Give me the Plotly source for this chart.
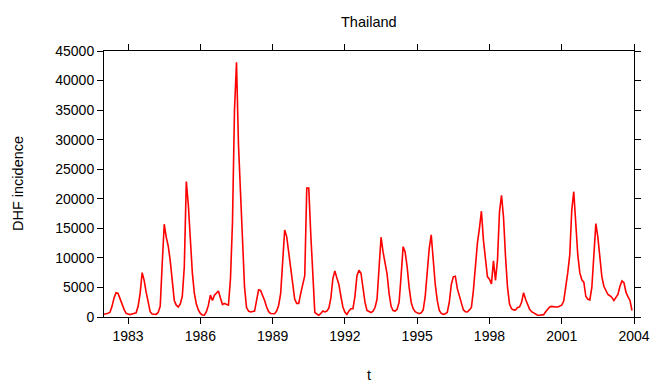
import plotly.graph_objects as go

start_year = 1982
incidence = [
    450, 500, 650, 800, 1800, 3200, 4100, 4000, 3000, 2300, 1300, 600,        # 1982
    450, 400, 500, 600, 700, 1800, 4000, 7500, 6200, 4200, 2200, 900,         # 1983
    500, 450, 450, 800, 1800, 9000, 15700, 13500, 12000, 9500, 6500, 2800,    # 1984
    2000, 1700, 2200, 3500, 8500, 22900, 19000, 13000, 7500, 4000, 2200, 1200,  # 1985
    600, 350, 300, 900, 2000, 3700, 2800, 3700, 4000, 4400, 3200, 2100,       # 1986
    2300, 2100, 2000, 6500, 16000, 35000, 43100, 29000, 20000, 12000, 5100, 1600,  # 1987
    1000, 850, 900, 1000, 2800, 4600, 4500, 3700, 2800, 1700, 900, 600,       # 1988
    550, 560, 1000, 2000, 4000, 10000, 14700, 13600, 11000, 8300, 6000, 3000,  # 1989
    2300, 2300, 4000, 5800, 7000, 21800, 21800, 14000, 6500, 800, 500, 300,   # 1990
    600, 1000, 850, 1000, 1500, 3200, 6500, 7800, 6600, 5500, 3500, 1700,     # 1991
    800, 450, 1000, 1400, 1400, 3500, 7000, 7900, 7400, 5000, 2500, 1100,     # 1992
    850, 750, 1000, 1600, 3000, 8000, 13500, 11000, 9000, 7300, 4000, 1800,   # 1993
    1100, 1000, 1300, 2500, 7000, 11900, 11000, 8500, 5000, 2500, 1400, 900,  # 1994
    700, 560, 700, 1200, 3500, 7900, 11600, 13900, 9000, 5500, 2800, 1100,    # 1995
    600, 450, 550, 800, 2500, 5500, 6800, 6900, 4800, 3600, 2500, 1200,       # 1996
    900, 850, 1200, 1600, 4500, 8800, 12500, 15000, 17900, 13000, 10000, 6800,  # 1997
    6400, 5600, 9500, 6200, 9600, 17800, 20600, 16900, 10200, 5000, 2200, 1400,  # 1998
    1200, 1200, 1600, 1700, 2500, 4100, 3000, 2100, 1300, 900, 700, 450,      # 1999
    300, 300, 300, 400, 900, 1400, 1700, 1800, 1700, 1700, 1700, 1800,        # 2000
    2000, 2700, 4800, 7500, 10500, 18100, 21200, 15200, 10500, 7500, 6300, 5900,  # 2001
    3500, 3000, 2900, 5000, 11000, 15800, 13500, 10000, 6800, 5200, 4500, 3800,  # 2002
    3600, 3300, 2800, 3300, 3800, 5200, 6100, 5800, 4200, 3400, 2800, 1100,   # 2003
]
t = [start_year + i / 12 for i in range(len(incidence))]

x_ticks = [1983, 1986, 1989, 1992, 1995, 1998, 2001, 2004]
y_ticks = [0, 5000, 10000, 15000, 20000, 25000, 30000, 35000, 40000, 45000]

FONT = "Liberation Sans, Arial, Helvetica, sans-serif"

fig = go.Figure()
fig.add_trace(go.Scatter(x=t, y=incidence, mode="lines",
                         line=dict(color="#ff0000", width=1.6),
                         showlegend=False, hoverinfo="skip"))

axis_common = dict(showgrid=False, zeroline=False, showline=True,
                   linecolor="black", linewidth=1, mirror="ticks",
                   ticks="outside", ticklen=6, tickwidth=1, tickcolor="black",
                   automargin=False,
                   tickfont=dict(family=FONT, size=14, color="black"))

fig.update_xaxes(range=[1982, 2004], tickvals=x_ticks,
                 ticktext=[str(v) for v in x_ticks], **axis_common)
fig.update_yaxes(range=[0, 45000], tickvals=y_ticks,
                 ticktext=[str(v) for v in y_ticks], **axis_common)

fig.update_layout(
    width=651, height=382,
    margin=dict(l=104, r=17, t=51, b=65, pad=0, autoexpand=False),
    paper_bgcolor="white", plot_bgcolor="white",
    font=dict(family=FONT, size=14, color="black"),
    annotations=[
        dict(text="Thailand", x=0.5, y=1, xref="paper", yref="paper",
             yshift=29, yanchor="middle", xanchor="center", showarrow=False,
             font=dict(family=FONT, size=14.5, color="black")),
        dict(text="t", x=0.5, y=0, xref="paper", yref="paper",
             yshift=-58, yanchor="middle", xanchor="center", showarrow=False,
             font=dict(family=FONT, size=14.5, color="black")),
        dict(text="DHF incidence", x=0, y=0.5, xref="paper", yref="paper",
             xshift=-86, xanchor="center", yanchor="middle", textangle=-90,
             showarrow=False, font=dict(family=FONT, size=14.5, color="black")),
    ],
)

fig.write_html("out.html")
